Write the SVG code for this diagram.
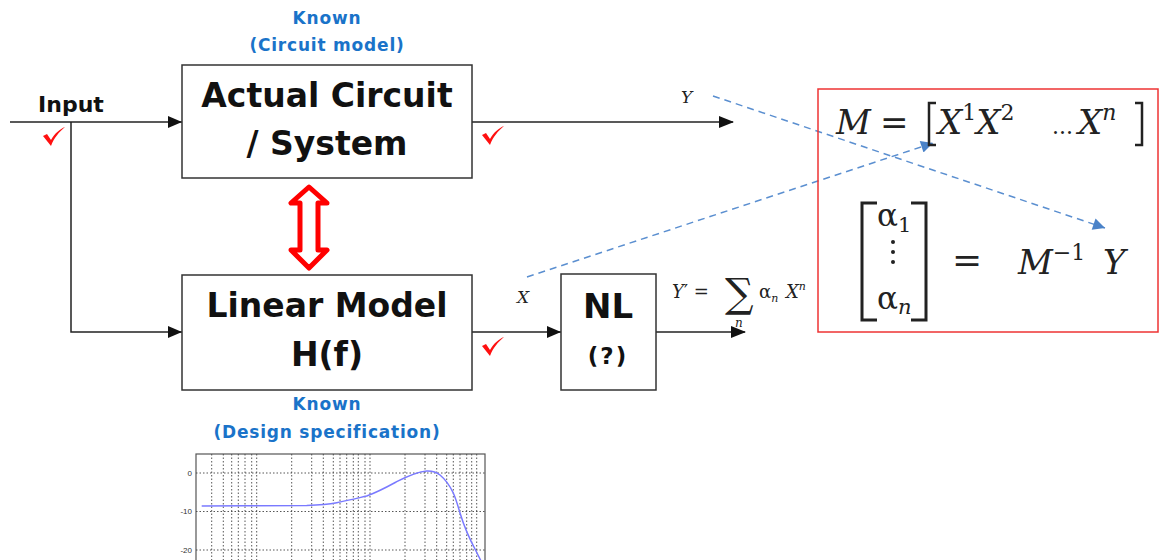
<svg xmlns="http://www.w3.org/2000/svg" width="1159" height="560" viewBox="0 0 1159 560">
<defs>
<style>
.box{fill:#fff;stroke:#333;stroke-width:1.5}
.wire{fill:none;stroke:#222;stroke-width:1.5}
.dash{fill:none;stroke:#5b8fd0;stroke-width:1.5;stroke-dasharray:7 5}
.blk{font-family:"DejaVu Sans","Liberation Sans",sans-serif;font-weight:bold;fill:#111;text-anchor:middle}
.known{font-family:"DejaVu Sans","Liberation Sans",sans-serif;font-weight:bold;fill:#1a73c9;text-anchor:middle;font-size:17px;letter-spacing:0.8px}
.math{font-family:"DejaVu Serif","Liberation Serif",serif;fill:#222}
.it{font-style:italic}
.check{fill:#ff1010}
.grid{stroke:#444;stroke-width:0.9;stroke-dasharray:1.5 2;fill:none}
.tick{font-family:"Liberation Sans",Arial,sans-serif;font-size:8px;fill:#333;text-anchor:end}
</style>
<marker id="bh" viewBox="0 0 10 10" refX="10" refY="5" markerWidth="14" markerHeight="12" markerUnits="userSpaceOnUse" orient="auto">
<path d="M0,0 L10,5 L0,10 Z" fill="#4a82c8"/>
</marker>
<path id="chk" d="M0,9 L4,7 L8,13 C12,6 17,2 22,0 C16,5 11,11 8,19 Z"/>
</defs>

<g id="connectors">
<path class="wire" d="M10,122 H182"/>
<path class="wire" d="M71,122 V332 H182"/>
<path d="M168,326 L182,332 L168,338 Z" fill="#111"/>
<path d="M168,116 L182,122 L168,128 Z" fill="#111"/>
<path class="wire" d="M472,122 H733"/>
<path d="M719,116 L734,122 L719,128 Z" fill="#111"/>
<path class="wire" d="M472,332 H561"/>
<path d="M547,326 L561,332 L547,338 Z" fill="#111"/>
<path class="wire" d="M656,332 H745"/>
<path d="M731,326 L746,332 L731,338 Z" fill="#111"/>
<path class="dash" d="M713,96 L1105,228" marker-end="url(#bh)"/>
<path class="dash" d="M527,277 L933,143" marker-end="url(#bh)"/>
<path d="M309,187 L291,203 L300,203 L300,250 L291,250 L309,268 L327,250 L318,250 L318,203 L327,203 Z" fill="#fff" stroke="#ff0000" stroke-width="5" stroke-linejoin="round"/>
</g>

<g id="input-label">
<text x="71" y="112" class="blk" style="font-size:22px">Input</text>
<use href="#chk" class="check" x="43" y="127"/>
</g>

<g id="known-top">
<text x="327" y="24" class="known">Known</text>
<text x="327" y="51" class="known">(Circuit model)</text>
</g>

<g id="actual-circuit">
<rect class="box" x="182" y="65" width="290" height="113"/>
<text x="327" y="107" class="blk" style="font-size:33px">Actual Circuit</text>
<text x="327" y="155" class="blk" style="font-size:33px">/ System</text>
</g>

<g id="linear-model">
<rect class="box" x="182" y="275" width="290" height="115"/>
<text x="327" y="317" class="blk" style="font-size:33px">Linear Model</text>
<text x="327" y="366" class="blk" style="font-size:33px">H(f)</text>
</g>

<g id="nl">
<rect class="box" x="561" y="274" width="95" height="116"/>
<text x="608" y="318" class="blk" style="font-size:34px">NL</text>
<text x="608" y="364" class="blk" style="font-size:23px;letter-spacing:2px">(?)</text>
</g>

<g id="checks">
<use href="#chk" class="check" x="482" y="126"/>
<use href="#chk" class="check" x="482" y="337"/>
</g>

<g id="labels">
<text x="681" y="103" class="math it" style="font-size:17px">Y</text>
<text x="517" y="303" class="math it" style="font-size:17px">X</text>
<text x="672" y="298" class="math" style="font-size:18px"><tspan class="it">Y</tspan>′ =</text>
<text x="725" y="307" class="math" style="font-size:40px">∑</text>
<text x="735" y="327" class="math it" style="font-size:12px">n</text>
<text x="759" y="298" class="math" style="font-size:18px">α<tspan class="it" font-size="11" dy="4">n</tspan><tspan class="it" dy="-4" x="786">X</tspan><tspan class="it" font-size="11" dy="-8">n</tspan></text>
</g>

<g id="equation-box">
<rect x="818" y="89" width="340" height="243" fill="none" stroke="#ee3333" stroke-width="1.5"/>
<text x="836" y="134" class="math it" style="font-size:34px">M</text>
<text x="880" y="134" class="math" style="font-size:34px">=</text>
<path d="M936,103 H929 V145 H936" fill="none" stroke="#222" stroke-width="2.5"/>
<text x="938" y="134" class="math" style="font-size:34px"><tspan class="it">X</tspan><tspan font-size="22" dy="-14">1</tspan><tspan class="it" dy="14">X</tspan><tspan font-size="22" dy="-14">2</tspan></text>
<text x="1052" y="134" class="math" style="font-size:22px">...</text>
<text x="1078" y="134" class="math" style="font-size:34px"><tspan class="it">X</tspan><tspan class="it" font-size="22" dy="-14">n</tspan></text>
<path d="M1135,103 H1142 V145 H1135" fill="none" stroke="#222" stroke-width="2.5"/>
<path d="M877,203 H862 V320 H877 M911,203 H926 V320 H911" fill="none" stroke="#222" stroke-width="3"/>
<text x="877" y="226" class="math" style="font-size:31px">α<tspan font-size="21" dy="6">1</tspan></text>
<circle cx="893" cy="242" r="2" fill="#222"/>
<circle cx="893" cy="252" r="2" fill="#222"/>
<circle cx="893" cy="262" r="2" fill="#222"/>
<text x="877" y="309" class="math" style="font-size:31px">α<tspan class="it" font-size="21" dy="5">n</tspan></text>
<text x="952" y="272" class="math" style="font-size:36px">=</text>
<text x="1018" y="274" class="math" style="font-size:34px"><tspan class="it">M</tspan><tspan font-size="22" dy="-14">−1</tspan><tspan class="it" dy="14" x="1103">Y</tspan></text>
</g>

<g id="known-bottom">
<text x="327" y="410" class="known">Known</text>
<text x="327" y="438" class="known">(Design specification)</text>
</g>

<g id="plot">
<rect x="196" y="454" width="289" height="110" fill="#fff" stroke="#555" stroke-width="1.2"/>
<path class="grid" d="M196,473 H485 M196,511.5 H485 M196,550 H485"/>
<path class="grid" d="M211.7,454V560 M223.3,454V560 M231.7,454V560 M238.3,454V560 M245,454V560 M251.7,454V560 M256.7,454V560 M291.7,454V560 M311.7,454V560 M323.3,454V560 M333.3,454V560 M340,454V560 M346.7,454V560 M353.3,454V560 M358.3,454V560 M365,454V560 M370,454V560 M405,454V560 M425,454V560 M436.7,454V560 M446.7,454V560 M453.3,454V560 M460,454V560 M466.7,454V560 M471.7,454V560 M476.7,454V560"/>
<text x="192" y="476" class="tick">0</text>
<text x="192" y="514" class="tick">-10</text>
<text x="192" y="553" class="tick">-20</text>
<path d="M201.7,506 L246.7,505.7 L306.7,505.5 C320,505 330,504 336.7,502.7 C348,500.5 356,498.5 366.7,496 C378,492 387,487 396.7,481.7 C408,476 418,471.5 426.7,471 C433,470.8 437,472.5 440,475 C446,480 450,486 453.3,493 C456,499 458,506 460,513 C464,526 470,540 476,551 L481,561" fill="none" stroke="#7a7aff" stroke-width="1.5"/>
</g>
</svg>
